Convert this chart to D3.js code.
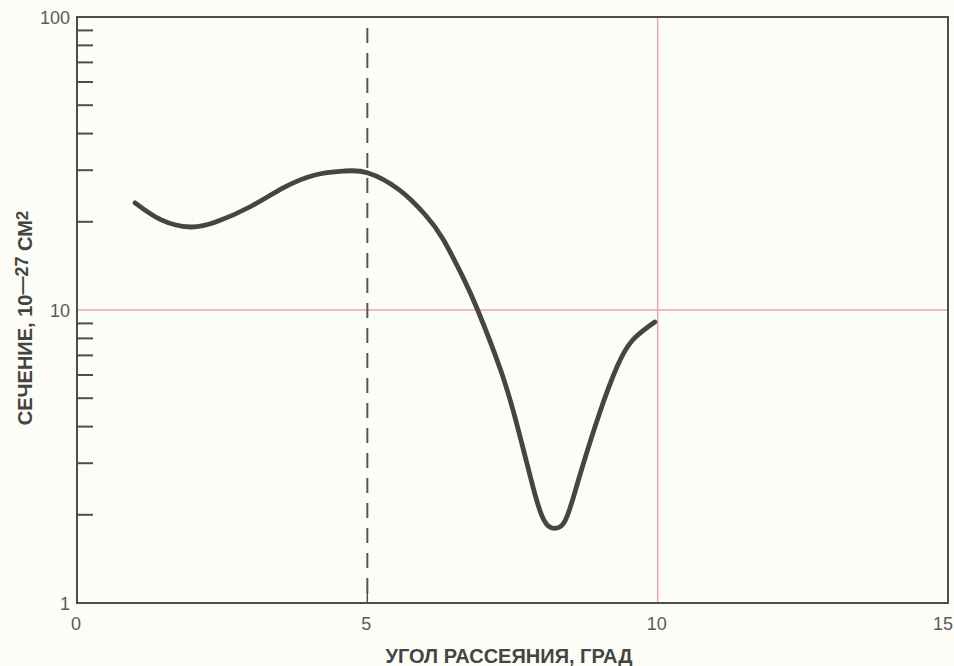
<!DOCTYPE html>
<html>
<head>
<meta charset="utf-8">
<script src="https://cdn.jsdelivr.net/npm/d3@7"></script>
<style>
  html, body { margin: 0; padding: 0; background: #fdfdf7; }
  svg { display: block; }
</style>
</head>
<body>
<svg id="chart" width="954" height="666"></svg>
<script>
// Scattering angle (degrees) and cross section (10^-27 cm^2)
const angles   = [1.0, 1.45, 1.95, 2.4, 3.0, 3.55, 4.1, 4.6, 5.0, 5.55, 6.0, 6.3, 6.65, 6.9, 7.3, 7.6, 7.85, 8.0, 8.12, 8.25, 8.4, 8.55, 8.7, 9.0, 9.3, 9.57, 9.95];
const sections = [23.2, 20.3, 19.2, 20.0, 22.6, 26.1, 28.9, 29.8, 29.4, 25.7, 21.1, 17.5, 12.9, 10.0, 6.2, 3.9, 2.5, 2.0, 1.83, 1.80, 1.9, 2.3, 2.9, 4.45, 6.4, 7.9, 9.1];

const xTicks = [0, 5, 10, 15];
const yMajor = [1, 10, 100];
const yMinor = [2, 3, 4, 5, 6, 7, 8, 9, 20, 30, 40, 50, 60, 70, 80, 90];
const markerAngle = 5;
const gridAngle = 10;
const gridSection = 10;

const xTitle = "УГОЛ РАССЕЯНИЯ, ГРАД";

const svg = d3.select("#chart");
const plotLeft = 77, plotRight = 948, plotTop = 17, plotBottom = 603;

const x = d3.scaleLinear().domain([0, 15]).range([plotLeft, plotRight]);
const y = d3.scaleLog().domain([1, 100]).range([plotBottom, plotTop]);

const ink = "#4d4d4d";
const pink = "#eba3b3";

// pink reference lines
svg.append("line")
  .attr("x1", x(gridAngle)).attr("x2", x(gridAngle))
  .attr("y1", y(100)).attr("y2", y(1))
  .attr("stroke", pink).attr("stroke-width", 1.5);
svg.append("line")
  .attr("x1", x(0)).attr("x2", x(15))
  .attr("y1", y(gridSection)).attr("y2", y(gridSection))
  .attr("stroke", pink).attr("stroke-width", 1.5);

// dashed marker at 5 degrees
svg.append("line")
  .attr("x1", x(markerAngle)).attr("x2", x(markerAngle))
  .attr("y1", plotTop + 11).attr("y2", plotBottom)
  .attr("stroke", "#555").attr("stroke-width", 2)
  .attr("stroke-dasharray", "15 10");

// frame
svg.append("rect")
  .attr("x", plotLeft).attr("y", plotTop)
  .attr("width", plotRight - plotLeft).attr("height", plotBottom - plotTop)
  .attr("fill", "none").attr("stroke", ink).attr("stroke-width", 2);

// y minor ticks inside the frame
svg.append("g").selectAll("line").data(yMinor).join("line")
  .attr("x1", plotLeft).attr("x2", plotLeft + 16)
  .attr("y1", d => y(d)).attr("y2", d => y(d))
  .attr("stroke", ink).attr("stroke-width", 2);

// x tick at 5
svg.append("line")
  .attr("x1", x(markerAngle)).attr("x2", x(markerAngle))
  .attr("y1", plotBottom).attr("y2", plotBottom - 12)
  .attr("stroke", ink).attr("stroke-width", 1.5);

// tick labels
const labelFont = "'Liberation Sans', Arial, sans-serif";
svg.append("g").selectAll("text").data(yMajor).join("text")
  .attr("x", plotLeft - 7).attr("y", d => y(d) + 1)
  .attr("dy", "0.35em")
  .attr("text-anchor", "end")
  .attr("font-family", labelFont).attr("font-size", 18)
  .attr("fill", "#5a5a5a")
  .text(d => d);

svg.append("g").selectAll("text").data(xTicks).join("text")
  .attr("x", d => d === 15 ? x(d) - 5 : x(d) - 1).attr("y", 630)
  .attr("text-anchor", "middle")
  .attr("font-family", labelFont).attr("font-size", 18)
  .attr("fill", "#5a5a5a")
  .text(d => d);

// axis titles
svg.append("text")
  .attr("x", 509).attr("y", 663)
  .attr("text-anchor", "middle")
  .attr("font-family", labelFont).attr("font-size", 20).attr("font-weight", "bold")
  .attr("fill", "#444")
  .text(xTitle);

const yt = svg.append("text")
  .attr("transform", "translate(32,318) rotate(-90)")
  .attr("text-anchor", "middle")
  .attr("font-family", labelFont).attr("font-size", 20).attr("font-weight", "bold")
  .attr("fill", "#444");
yt.append("tspan").text("СЕЧЕНИЕ, 10");
yt.append("tspan").attr("dy", -4).attr("font-size", 18).text("—27");
yt.append("tspan").attr("dy", 4).text(" СМ");
yt.append("tspan").attr("dy", -4).attr("font-size", 17).text("2");

// curve
const pts = angles.map((a, i) => [a, sections[i]]);
const line = d3.line()
  .x(d => x(d[0])).y(d => y(d[1]))
  .curve(d3.curveNatural);
svg.append("path")
  .datum(pts)
  .attr("d", line)
  .attr("fill", "none")
  .attr("stroke", "#454545")
  .attr("stroke-width", 4.8)
  .attr("stroke-linecap", "round")
  .attr("stroke-linejoin", "round");
</script>
</body>
</html>
